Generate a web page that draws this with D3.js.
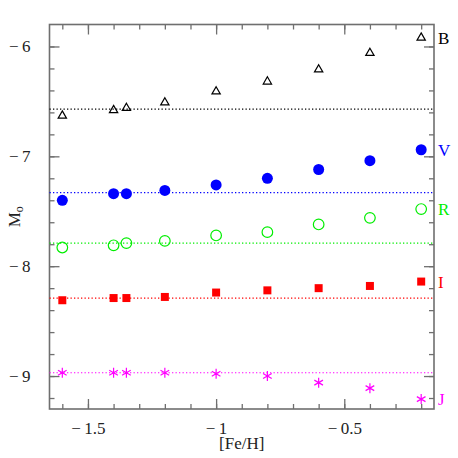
<!DOCTYPE html>
<html>
<head>
<meta charset="utf-8">
<script src="https://cdn.jsdelivr.net/npm/d3@7"></script>
<style>
  body { margin: 0; background: #fff; }
  text { font-family: "Liberation Serif", "DejaVu Serif", serif; }
</style>
</head>
<body>
<div class="chart-container"></div>
<script>
// metallicity grid
var feh = [-1.6, -1.4, -1.35, -1.2, -1.0, -0.8, -0.6, -0.4, -0.2];

// absolute magnitude per band
var magB = [-6.63, -6.58, -6.56, -6.51, -6.41, -6.32, -6.21, -6.06, -5.92];
var magV = [-7.40, -7.34, -7.34, -7.31, -7.26, -7.20, -7.12, -7.04, -6.94];
var magR = [-7.83, -7.81, -7.79, -7.77, -7.72, -7.69, -7.62, -7.56, -7.48];
var magI = [-8.31, -8.29, -8.29, -8.28, -8.24, -8.22, -8.20, -8.18, -8.14];
var magJ = [-8.97, -8.97, -8.97, -8.97, -8.98, -9.00, -9.06, -9.11, -9.21];

// reference level for each band (dotted lines)
var refLevel = [-6.57, -7.33, -7.79, -8.29, -8.97];

var bandNames = ["B", "V", "R", "I", "J"];
var bandColors = ["#000000", "#0000ff", "#00ee00", "#ff0000", "#ff00ff"];
var bandShapes = ["triangle", "dot", "ring", "square", "asterisk"];

var xTicks = [-1.5, -1, -0.5];
var yTicks = [-9, -8, -7, -6];

var W = 458, H = 458;
var pL = 49.5, pR = 434, pT = 24.5, pB = 409;

var series = [magB, magV, magR, magI, magJ];

var svg = d3.select(".chart-container").append("svg").attr("width", W).attr("height", H)
  .style("display", "block");

var x = d3.scaleLinear().domain([-1.65, -0.15]).range([pL, pR]);
var y = d3.scaleLinear().domain([-9.3, -5.8]).range([pB, pT]);

var minorX = d3.range(-1.6, -0.15, 0.1).map(v => +v.toFixed(2));
var minorY = d3.range(-9.2, -5.95, 0.2).map(v => +v.toFixed(2));

var axisColor = "#6f6f6f";
function styleAxis(g) {
  g.select(".domain").remove();
  g.selectAll("line").attr("stroke", axisColor).attr("stroke-width", 1.3);
  g.selectAll("text").attr("fill", "#222").attr("font-size", 17)
    .attr("font-family", '"Liberation Serif", "DejaVu Serif", serif');
}
// minus sign with a little gap, like the TeX labels
var negFmt = d => "\u2212\u2009" + Math.abs(d);

// bottom axis (ticks pointing up into the plot)
var gb = svg.append("g").attr("transform", "translate(0," + pB + ")");
gb.append("g").call(d3.axisBottom(x).tickValues(minorX).tickSize(-5).tickFormat("")).call(styleAxis);
gb.append("g").call(d3.axisBottom(x).tickValues(xTicks).tickSize(-10).tickPadding(13)
  .tickFormat(negFmt)).call(styleAxis);

// top axis
var gt = svg.append("g").attr("transform", "translate(0," + pT + ")");
gt.append("g").call(d3.axisTop(x).tickValues(minorX).tickSize(-5).tickFormat("")).call(styleAxis);
gt.append("g").call(d3.axisTop(x).tickValues(xTicks).tickSize(-10).tickFormat("")).call(styleAxis);

// left axis
var gl = svg.append("g").attr("transform", "translate(" + pL + ",0)");
gl.append("g").call(d3.axisLeft(y).tickValues(minorY).tickSize(-5).tickFormat("")).call(styleAxis);
gl.append("g").call(d3.axisLeft(y).tickValues(yTicks).tickSize(-10).tickPadding(19)
  .tickFormat(negFmt)).call(styleAxis);

// right axis
var gr = svg.append("g").attr("transform", "translate(" + pR + ",0)");
gr.append("g").call(d3.axisRight(y).tickValues(minorY).tickSize(-5).tickFormat("")).call(styleAxis);
gr.append("g").call(d3.axisRight(y).tickValues(yTicks).tickSize(-10).tickFormat("")).call(styleAxis);

// frame
svg.append("rect").attr("x", pL).attr("y", pT).attr("width", pR - pL).attr("height", pB - pT)
  .attr("fill", "none").attr("stroke", axisColor).attr("stroke-width", 1.6);

// dotted reference lines
svg.selectAll(".ref").data(refLevel).enter().append("line")
  .attr("x1", pL).attr("x2", pR)
  .attr("y1", d => y(d)).attr("y2", d => y(d))
  .attr("stroke", (d, i) => bandColors[i])
  .attr("stroke-width", 1.2)
  .attr("stroke-dasharray", "1.3,2.2");

// markers
var symbols = {
  triangle: d3.symbol().type(d3.symbolTriangle).size(30),
  square: d3.symbol().type(d3.symbolSquare).size(64),
  asterisk: d3.symbol().type(d3.symbolAsterisk).size(70)
};

series.forEach(function (vals, i) {
  var pts = feh.map((f, j) => ({ f: f, m: vals[j] }));
  var col = bandColors[i], shape = bandShapes[i];
  var g = svg.append("g");
  if (shape === "dot" || shape === "ring") {
    g.selectAll("circle").data(pts).enter().append("circle")
      .attr("cx", d => x(d.f)).attr("cy", d => y(d.m))
      .attr("r", shape === "dot" ? 5.5 : 5.3)
      .attr("fill", shape === "dot" ? col : "none")
      .attr("stroke", col).attr("stroke-width", shape === "dot" ? 0 : 1.2);
  } else {
    g.selectAll("path").data(pts).enter().append("path")
      .attr("transform", d => "translate(" + x(d.f) + "," + y(d.m) + ")")
      .attr("d", symbols[shape]())
      .attr("fill", shape === "square" ? col : "none")
      .attr("stroke", col)
      .attr("stroke-width", shape === "square" ? 0 : 1.2);
  }
  // band name at the right edge
  svg.append("text")
    .attr("x", pR + 4).attr("y", y(vals[vals.length - 1]))
    .attr("dy", "0.35em")
    .attr("fill", col).attr("font-size", 17)
    .text(bandNames[i]);
});

// axis titles
svg.append("text").attr("x", (pL + pR) / 2).attr("y", 449)
  .attr("text-anchor", "middle").attr("font-size", 17).attr("fill", "#222").text("[Fe/H]");

var yl = svg.append("text").attr("transform", "translate(20," + ((pT + pB) / 2) + ") rotate(-90)")
  .attr("text-anchor", "middle").attr("font-size", 17).attr("fill", "#222");
yl.append("tspan").text("M");
yl.append("tspan").attr("font-size", 12).attr("dy", 3).text("o");
</script>
</body>
</html>
